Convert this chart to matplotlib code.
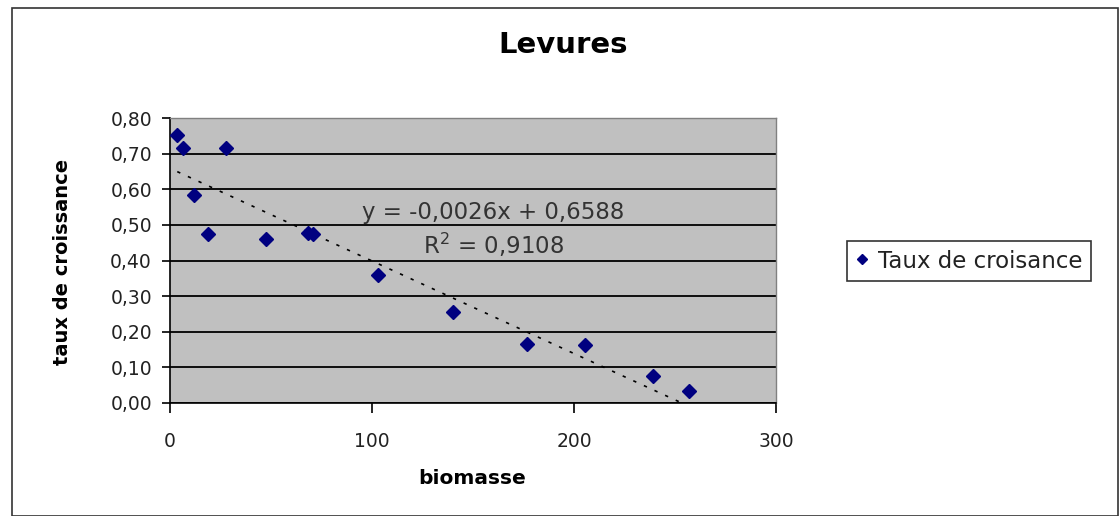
import matplotlib
matplotlib.use("Agg")
import matplotlib.pyplot as plt
from matplotlib.patches import Rectangle
import numpy as np

# Data
biomasse = [3.6, 6.3, 11.9, 18.7, 27.8, 47.3, 68.5, 71.0, 102.8, 140.2, 176.5, 205.4, 239.1, 256.8]
taux = [0.752, 0.716, 0.583, 0.475, 0.716, 0.459, 0.478, 0.475, 0.358, 0.256, 0.167, 0.162, 0.077, 0.035]
slope = -0.0026
intercept = 0.6588
r2 = 0.9108
series_name = "Taux de croisance"
yticks = [0.0, 0.1, 0.2, 0.3, 0.4, 0.5, 0.6, 0.7, 0.8]
ytick_labels = ["0,00", "0,10", "0,20", "0,30", "0,40", "0,50", "0,60", "0,70", "0,80"]
xticks = [0, 100, 200, 300]

plt.rcParams['font.family'] = ['DejaVu Sans']

W, H = 1119, 516
fig = plt.figure(figsize=(W / 100, H / 100), dpi=100)
fig.patch.set_facecolor('white')

# outer chart border
fig.add_artist(Rectangle((12 / W, 0), (W - 13) / W, (H - 8) / H, transform=fig.transFigure,
                         fill=False, edgecolor='#333333', linewidth=1.2))

left, right, top, bottom = 170, 776, 118, 403
ax = fig.add_axes([left / W, 1 - bottom / H, (right - left) / W, (bottom - top) / H])
ax.set_facecolor('#C0C0C0')
ax.set_xlim(0, 300)
ax.set_ylim(0, 0.8)

ax.set_yticks(yticks)
ax.set_yticklabels(ytick_labels)
ax.set_xticks(xticks)
ax.yaxis.grid(True, color='black', linewidth=1.3)
ax.set_axisbelow(True)

for s in ['top', 'right']:
    ax.spines[s].set_color('#808080')
    ax.spines[s].set_linewidth(1)
for s in ['left', 'bottom']:
    ax.spines[s].set_color('black')
    ax.spines[s].set_linewidth(1.2)

ax.tick_params(axis='y', direction='out', length=6, width=1.2, pad=7, labelsize=13.5, labelcolor='#222222')
ax.tick_params(axis='x', direction='out', length=7, width=1.2, pad=14, labelsize=13.5, labelcolor='#222222')

# Trendline
xs = np.array([min(biomasse), max(biomasse)])
ax.plot(xs, slope * xs + intercept, color='black', linestyle=(0, (2, 5)), linewidth=1.2, zorder=2)

# points
ax.plot(biomasse, taux, linestyle='none', marker='D', markersize=7, color='#000080',
        markeredgecolor='#000080', label=series_name, zorder=3)

ax.text(160, 0.535, "y = -0,0026x + 0,6588", ha='center', va='center', fontsize=16.5, color='#333333')
ax.text(160, 0.445, "R$^2$ = 0,9108", ha='center', va='center', fontsize=16.5, color='#333333')

fig.text(563 / W, 1 - 45 / H, "Levures", ha='center', va='center', fontsize=21, fontweight='heavy')
fig.text(472 / W, 1 - 478 / H, "biomasse", ha='center', va='center', fontsize=14.5,
         fontweight='bold')
fig.text(62 / W, 1 - 262 / H, "taux de croissance", ha='center', va='center', fontsize=14,
         fontweight='bold', rotation=90)

leg = fig.legend(loc='center', bbox_to_anchor=(969 / W, 1 - 261 / H), frameon=True, fancybox=False,
                 edgecolor='black', fontsize=16.5, handlelength=0.6, handletextpad=0.4,
                 borderpad=0.35, markerscale=0.8, labelcolor='#222222')
leg.get_frame().set_linewidth(1.2)

fig.savefig("out.png", dpi=100)
